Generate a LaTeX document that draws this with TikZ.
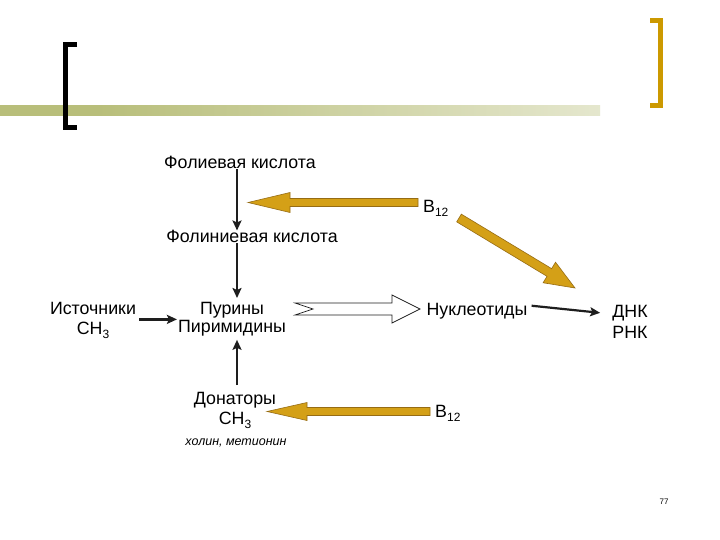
\documentclass[tikz,border=0pt]{standalone}
\usepackage{fontspec}
\setmainfont{Liberation Sans}
\usetikzlibrary{calc,arrows.meta}
\definecolor{goldfill}{RGB}{212,160,23}
\definecolor{golddraw}{RGB}{150,108,20}
\definecolor{bracketgold}{RGB}{204,153,0}
\definecolor{bandolive}{RGB}{184,190,122}
\definecolor{inkblack}{RGB}{30,30,30}
\pgfdeclarehorizontalshading{bandshade}{100bp}{color(0bp)=(bandolive); color(33bp)=(bandolive); color(100bp)=(white)}
\newcommand\sbs[1]{\raisebox{-4pt}{\fontsize{12}{12}\selectfont #1}}
% block arrow: style, tail, tip, shaft half, head half, head length, notch
\newcommand\blockarrow[7]{%
  \coordinate (bah) at ($(#3)!#6!(#2)$);
  \coordinate (ban) at ($(#2)!#7!(#3)$);
  \filldraw[#1] ($(#2)!#4!90:(#3)$) -- ($(bah)!#4!90:(#3)$) -- ($(bah)!#5!90:(#3)$)
    -- (#3) -- ($(bah)!#5!-90:(#3)$) -- ($(bah)!#4!-90:(#3)$) -- ($(#2)!#4!-90:(#3)$)
    -- (ban) -- cycle;}
\tikzset{
  lbl/.style={inner sep=0pt, font=\fontsize{17.8}{20}\selectfont, align=center},
  blk/.style={draw=inkblack, line width=2.6pt, -{Stealth[length=10pt,width=9pt,inset=2pt]}},
  goldarr/.style={fill=goldfill, draw=golddraw, line width=0.6pt},
  whitearr/.style={fill=white, draw=inkblack, line width=0.7pt},
}
\begin{document}
\begin{tikzpicture}[x=1pt,y=-1pt]
\useasboundingbox (0,0) rectangle (720,540);
\fill[white] (0,0) rectangle (720,540);
% band
\shade[shading=bandshade] (0,106) rectangle (600,116);
% brackets
\draw[line width=5pt, black] (77,44.5) -- (65.5,44.5) -- (65.5,127.5) -- (77,127.5);
\draw[line width=5pt, bracketgold] (650,20.5) -- (660.5,20.5) -- (660.5,105.5) -- (650,105.5);
% axis
\coordinate (axis) at (237,0);
% nodes
\node[lbl, anchor=base] (fol) at (240,169) {Фолиевая кислота};
\node[lbl, anchor=base] (folin) at (252,243) {Фолиниевая кислота};
\node[lbl, anchor=base west] (b12a) at (423,213) {B\sbs{12}};
\node[lbl, anchor=north, font=\fontsize{17.8}{20}\selectfont] (ist) at (93,302) {Источники\\CH\sbs{3}};
\node[lbl, anchor=north, font=\fontsize{17.8}{18.5}\selectfont] (pur) at (232,302) {Пурины\\Пиримидины};
\node[lbl, anchor=base] (nuk) at (477,315) {Нуклеотиды};
\node[lbl, anchor=north, font=\fontsize{17.8}{21}\selectfont] (dnk) at (630,305) {ДНК\\РНК};
\node[lbl, anchor=north, font=\fontsize{17.8}{20}\selectfont] (don) at (235,392) {Донаторы\\CH\sbs{3}};
\node[lbl, anchor=base west] (b12b) at (435,417) {B\sbs{12}};
\node[inner sep=0pt, anchor=base, font=\fontsize{12.5}{14}\itshape] (chol) at (236,445) {холин, метионин};
\node[inner sep=0pt, anchor=base, font=\fontsize{8}{9}\selectfont] (page) at (664,504) {77};
% black arrows
\draw[blk] (fol.south -| axis) -- (folin.north -| axis);
\draw[blk] (folin.south -| axis) -- ($(pur.north -| axis)+(0,-4)$);
\draw[blk] ($(don.north -| axis)+(0,-7)$) -- ($(pur.south -| axis)+(0,3)$);
\coordinate (ia) at ($(ist.east)+(3,-1)$);
\draw[blk] (ia) -- ($(ia -| pur.west)+(-1,0)$);
\draw[blk, line width=2.2pt] ($(nuk.east)+(4,-5)$) -- ($(dnk.west)+(-12,-9)$);
% gold block arrows
\coordinate (t1) at (248,202.5);
\coordinate (s1) at ($(t1 -| b12a.west)+(-5,0)$);
\coordinate (d1) at (459,218);
\coordinate (d2) at (575,288);
\coordinate (t3) at (267,411.5);
\coordinate (s3) at ($(t3 -| b12b.west)+(-5,0)$);
\blockarrow{goldarr}{s1}{t1}{4pt}{10pt}{42pt}{0pt}
\blockarrow{goldarr}{d1}{d2}{4.5pt}{12pt}{30pt}{0pt}
\blockarrow{goldarr}{s3}{t3}{4pt}{9pt}{40pt}{0pt}
% white block arrow
\coordinate (w1) at (295,309);
\coordinate (w2) at (420,309);
\blockarrow{whitearr}{w1}{w2}{6pt}{14pt}{28pt}{18pt}
\end{tikzpicture}
\end{document}
